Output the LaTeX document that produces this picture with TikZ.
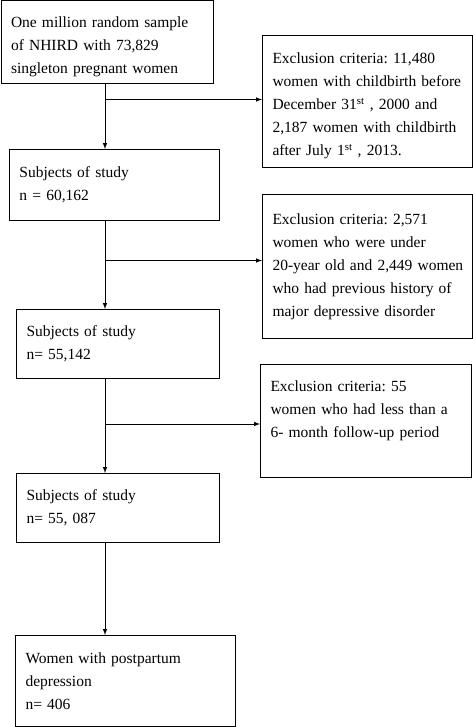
\documentclass[tikz,border=0pt]{standalone}
\usepackage{fontspec}
\setmainfont{Liberation Serif}
\frenchspacing
\usetikzlibrary{arrows}
\tikzstyle{stage} = [draw, rectangle, anchor=north west, inner xsep=10pt, inner ysep=0pt, align=left,
font=\fontsize{15.5}{23}\selectfont, line width=1pt]
\tikzstyle{flowArrow} = [line width=1pt,->,>=latex]
\newcommand{\dropline}{\rule{0pt}{19pt}}

\begin{document}
\begin{tikzpicture}[x=1pt,y=-1pt]
		\useasboundingbox (0,0) rectangle (473,727);
		%blocks
		\node[stage, text width=192pt, minimum height=83pt] (top) at (0.5,0.5)
			{\dropline One million random sample\\of NHIRD with 73,829\\singleton pregnant women};
		\node[stage, text width=190pt, minimum height=132pt] (ex1) at (262,35)
			{\dropline Exclusion criteria: 11,480\\women with childbirth before\\December 31\textsuperscript{st} , 2000 and\\2,187 women with childbirth\\after July 1\textsuperscript{st} , 2013.};
		\node[stage, text width=190pt, minimum height=71pt] (study1) at (9,149)
			{Subjects of study\\n = 60,162};
		\node[stage, text width=190pt, minimum height=144pt] (ex2) at (262,194)
			{Exclusion criteria: 2,571\\women who were under\\\mbox{20-year old and 2,449 women}\\who had previous history of\\major depressive disorder};
		\node[stage, text width=183pt, minimum height=69pt] (study2) at (16,309)
			{Subjects of study\\n= 55,142};
		\node[stage, text width=191pt, minimum height=113pt] (ex3) at (260,364)
			{Exclusion criteria: 55\\women who had less than a\\6- month follow-up period\\[0pt]\mbox{}};
		\node[stage, text width=183pt, minimum height=69pt] (study3) at (16,473)
			{Subjects of study\\n= 55, 087};
		\node[stage, text width=200pt, minimum height=91pt] (ppd) at (15,635)
			{Women with postpartum\\depression\\n= 406};

		\coordinate (spine) at (105,0);

		%arrows
		\draw[flowArrow] (top.south -| spine) -- (study1.north -| spine);
		\draw[flowArrow] ([yshift=2pt]ex1.west -| spine) -- ([yshift=2pt]ex1.west);
		\draw[flowArrow] (study1.south -| spine) -- (study2.north -| spine);
		\draw[flowArrow] ([yshift=6pt]ex2.west -| spine) -- ([yshift=6pt]ex2.west);
		\draw[flowArrow] (study2.south -| spine) -- (study3.north -| spine);
		\draw[flowArrow] ([yshift=-3pt]ex3.west -| spine) -- ([yshift=-3pt]ex3.west);
		\draw[flowArrow] (study3.south -| spine) -- (ppd.north -| spine);
	\end{tikzpicture}
\end{document}
